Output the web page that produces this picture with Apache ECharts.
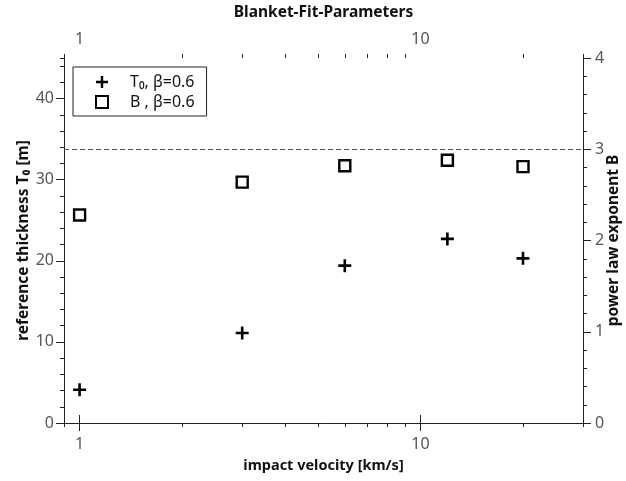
<!DOCTYPE html>
<html>
<head>
<meta charset="utf-8">
<script src="https://cdn.jsdelivr.net/npm/echarts@6/dist/echarts.min.js"></script>
<style>html,body{margin:0;padding:0;background:#fff}#c{width:626px;height:481px}</style>
</head>
<body>
<div id="c"></div>
<script>
var velocities = [1, 3, 6, 12, 20];
var thicknessT0 = [4.1, 11.1, 19.4, 22.7, 20.3];
var exponentB = [2.28, 2.64, 2.82, 2.88, 2.81];
var xMajorTicks = [1, 10];
var xMinorTicks = [0.9, 2, 3, 4, 5, 6, 7, 8, 9, 20, 30];
var referenceB = 3;

var FONT = 'Noto Sans';
var plusPath = 'path://M4.8,0H7.2V4.8H12V7.2H7.2V12H4.8V7.2H0V4.8H4.8Z';
var squarePath = 'path://M0,0H10V10H0Z';

function xAxisDef(pos, major, withName) {
  var a = {
    type: 'log', logBase: 10, min: 0.9, max: 30, position: pos,
    gridIndex: 0,
    axisLine: {show: major, lineStyle: {color: '#222', width: 1}},
    axisTick: {show: true, inside: false, length: major ? 8 : 4,
      customValues: major ? xMajorTicks : xMinorTicks,
      lineStyle: {color: '#222', width: 1}},
    axisLabel: {show: major, customValues: xMajorTicks, color: '#555',
      fontFamily: FONT, fontSize: 16, margin: pos === 'bottom' ? 13 : 11},
    splitLine: {show: false},
    minorTick: {show: false}
  };
  if (withName) {
    a.name = withName;
    a.nameLocation = 'middle';
    a.nameMoveOverlap = false;
    a.nameGap = pos === 'bottom' ? 35 : 37;
    a.nameTextStyle = {color: '#111', fontFamily: FONT, fontWeight: 'bold',
      fontSize: pos === 'bottom' ? 14.5 : 15.5};
  }
  return a;
}

var chart = echarts.init(document.getElementById('c'), null, {renderer: 'canvas'});
chart.setOption({
  backgroundColor: '#fff',
  animation: false,
  grid: {left: 64, right: 43, top: 58, bottom: 58, containLabel: false, outerBoundsMode: 'none'},
  legend: {
    orient: 'vertical', left: 73, top: 67,
    borderColor: '#222', borderWidth: 1,
    padding: [7, 12, 6, 22],
    itemWidth: 14, itemHeight: 12, itemGap: 4,
    textStyle: {fontFamily: FONT, fontSize: 16, color: '#111', padding: [0, 0, 0, 16]},
    data: ['T\u2080, \u03b2=0.6', 'B , \u03b2=0.6']
  },
  xAxis: [
    xAxisDef('bottom', true, 'impact velocity [km/s]'),
    xAxisDef('bottom', false, null),
    xAxisDef('top', true, 'Blanket-Fit-Parameters'),
    xAxisDef('top', false, null)
  ],
  yAxis: [
    {
      type: 'value', min: 0, max: 45, interval: 10, position: 'left',
      name: 'reference thickness T\u2080 [m]', nameLocation: 'middle', nameGap: 32, nameRotate: 90,
      nameMoveOverlap: false,
      nameTextStyle: {color: '#111', fontFamily: FONT, fontWeight: 'bold', fontSize: 15.5},
      axisLine: {show: true, lineStyle: {color: '#222'}},
      axisTick: {show: true, length: 8, lineStyle: {color: '#222'}},
      axisLabel: {color: '#555', fontFamily: FONT, fontSize: 16, margin: 10, showMaxLabel: false},
      splitLine: {show: false}
    },
    {
      type: 'value', min: 0, max: 4, interval: 1, position: 'right',
      name: 'power law exponent B', nameLocation: 'middle', nameGap: 23, nameRotate: 90,
      nameMoveOverlap: false,
      nameTextStyle: {color: '#111', fontFamily: FONT, fontWeight: 'bold', fontSize: 15.5},
      axisLine: {show: true, lineStyle: {color: '#222'}},
      axisTick: {show: true, length: 8, lineStyle: {color: '#222'}},
      minorTick: {show: true, splitNumber: 5, length: 4, lineStyle: {color: '#222'}},
      axisLabel: {color: '#555', fontFamily: FONT, fontSize: 16, margin: 12},
      splitLine: {show: false}, minorSplitLine: {show: false}
    },
    {
      type: 'value', min: 0, max: 45, interval: 2, position: 'left',
      axisLine: {show: false},
      axisTick: {show: true, length: 4, lineStyle: {color: '#222'}},
      axisLabel: {show: false},
      splitLine: {show: false}
    }
  ],
  series: [
    {
      name: 'T\u2080, \u03b2=0.6', type: 'scatter', xAxisIndex: 0, yAxisIndex: 0,
      symbol: plusPath, symbolSize: 13,
      itemStyle: {color: '#000', opacity: 1},
      data: velocities.map(function (v, i) { return [v, thicknessT0[i]]; }),
      z: 5
    },
    {
      name: 'B , \u03b2=0.6', type: 'scatter', xAxisIndex: 0, yAxisIndex: 1,
      symbol: squarePath, symbolSize: 11, symbolKeepAspect: true,
      itemStyle: {color: '#fff', borderColor: '#000', borderWidth: 2.4, opacity: 1},
      data: velocities.map(function (v, i) { return [v, exponentB[i]]; }),
      markLine: {
        silent: true, symbol: ['none', 'none'], label: {show: false},
        lineStyle: {color: '#555', type: [5, 3], width: 1},
        data: [{yAxis: referenceB}]
      },
      z: 5
    }
  ]
});
</script>
</body>
</html>
